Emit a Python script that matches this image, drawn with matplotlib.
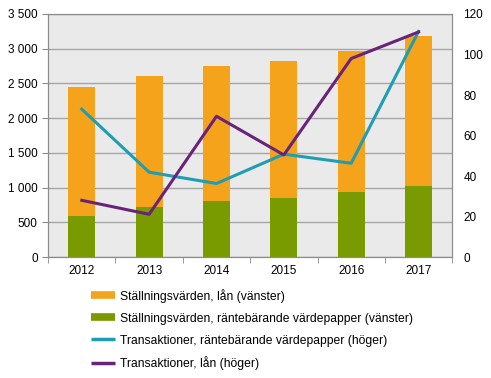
import numpy as np
import matplotlib.pyplot as plt
from matplotlib.ticker import FuncFormatter
from matplotlib.lines import Line2D

plt.rcParams['font.family'] = ['Liberation Sans', 'DejaVu Sans']

ar = ['2012', '2013', '2014', '2015', '2016', '2017']
vp_stall = [595, 720, 810, 850, 940, 1025]
totalt_stall = [2450, 2600, 2745, 2830, 2970, 3190]
lan_stall = [t - v for t, v in zip(totalt_stall, vp_stall)]
vp_trans = [73.0, 41.9, 36.3, 50.8, 46.3, 111.4]
lan_trans = [28.0, 21.1, 69.5, 50.4, 98.0, 111.1]

orange = '#F5A31A'
gron = '#7A9B00'
turkos = '#1E9DB3'
lila = '#69237A'
gra = '#8C8C8C'

fig = plt.figure(figsize=(4.91, 3.78), dpi=100)
ax = fig.add_axes([0.098, 0.320, 0.823, 0.643])
ax.set_facecolor('#EAEAEA')

x = np.arange(len(ar))
ax.bar(x, vp_stall, width=0.4, color=gron, zorder=2)
ax.bar(x, lan_stall, width=0.4, bottom=vp_stall, color=orange, zorder=2)

ax.set_xlim(-0.5, len(ar) - 0.5)
ax.set_ylim(0, 3500)
ax.set_yticks(np.arange(0, 3501, 500))
ax.yaxis.set_major_formatter(FuncFormatter(lambda v, p: f'{int(v):,}'.replace(',', ' ')))
ax.grid(axis='y', color='#A6A6A6', linewidth=1, zorder=1)
ax.set_axisbelow(True)

ax.set_xticks(x)
ax.set_xticklabels(ar)
ax.set_xticks(np.arange(-0.5, len(ar)), minor=True)
ax.tick_params(axis='x', which='major', length=0, labelsize=8.5, pad=6)
ax.tick_params(axis='x', which='minor', length=4, color=gra)
ax.tick_params(axis='y', length=4, color=gra, labelsize=8.5)

for s in ax.spines.values():
    s.set_color(gra)

ax2 = ax.twinx()
ax2.plot(x, vp_trans, color=turkos, linewidth=2.2, zorder=3)
ax2.plot(x, lan_trans, color=lila, linewidth=2.2, zorder=3)
ax2.set_ylim(0, 120)
ax2.set_yticks(np.arange(0, 121, 20))
ax2.tick_params(axis='y', length=0, labelsize=8.5, pad=8)
for s in ax2.spines.values():
    s.set_color(gra)

handles = [Line2D([], [], color=orange, linewidth=5.5, solid_capstyle='butt'),
           Line2D([], [], color=gron, linewidth=5.5, solid_capstyle='butt'),
           Line2D([], [], color=turkos, linewidth=2.5, solid_capstyle='butt'),
           Line2D([], [], color=lila, linewidth=2.5, solid_capstyle='butt')]
labels = ['Ställningsvärden, lån (vänster)',
          'Ställningsvärden, räntebärande värdepapper (vänster)',
          'Transaktioner, räntebärande värdepapper (höger)',
          'Transaktioner, lån (höger)']
fig.legend(handles, labels, loc='upper left', bbox_to_anchor=(0.186, 0.236),
           frameon=False, fontsize=8.7, handlelength=2.0,
           handletextpad=0.4, labelspacing=0.82, borderaxespad=0, borderpad=0)

fig.savefig('out.png', dpi=100)
